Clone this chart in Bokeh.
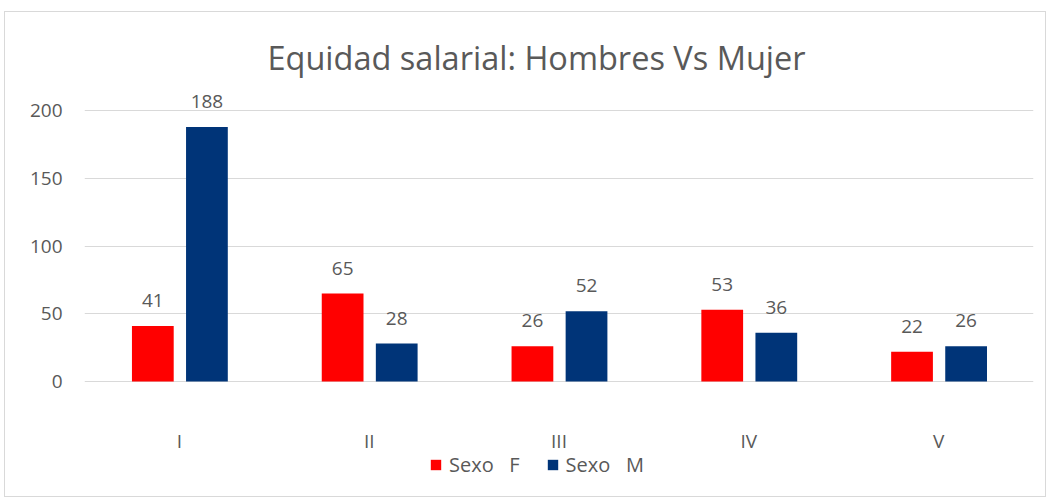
from bokeh.plotting import figure
from bokeh.models import FactorRange, Range1d, ColumnDataSource, Legend, LegendItem
from bokeh.transform import dodge
from bokeh.embed import file_html
from bokeh.resources import INLINE
from bokeh.core.properties import value

categories = ["I", "II", "III", "IV", "V"]
sexo_f = [41, 65, 26, 53, 22]
sexo_m = [188, 28, 52, 36, 26]
series_names = ["Sexo   F", "Sexo   M"]
title_text = "Equidad salarial: Hombres Vs Mujer"
y_ticks = [0, 50, 100, 150, 200]

FONT = "Open Sans"
TXT = "#595959"
GRID = "#d9d9d9"
RED = "#FF0000"
NAVY = "#003478"

src = ColumnDataSource(dict(cat=categories, f=sexo_f, m=sexo_m,
                            fl=[str(v) for v in sexo_f], ml=[str(v) for v in sexo_m],
                            zero=[0] * len(categories)))

p = figure(x_range=FactorRange(*categories), y_range=Range1d(-82, 215),
           width=1042, height=486, output_backend="svg", toolbar_location=None,
           min_border_left=79, min_border_right=14, min_border_top=78, min_border_bottom=6,
           border_fill_color="white")
p.styles = {"border": "1px solid #d9d9d9", "margin-left": "4px", "margin-top": "11px"}
p.outline_line_color = None

p.title.text = title_text
p.title.text_font = FONT
p.title.text_font_size = "32.5px"
p.title.text_font_style = "normal"
p.title.text_color = TXT
p.title.align = "left"
p.title.offset = 183
p.title.standoff = 21

rf = p.vbar(x=dodge("cat", -0.14, range=p.x_range), top="f", width=0.22, source=src,
            fill_color=RED, line_color=None)
rm = p.vbar(x=dodge("cat", 0.145, range=p.x_range), top="m", width=0.22, source=src,
            fill_color=NAVY, line_color=None)

for col, lab, off in (("f", "fl", -0.14), ("m", "ml", 0.145)):
    p.text(x=dodge("cat", off, range=p.x_range), y=col, text=lab, source=src,
           text_align="center", text_baseline="bottom", y_offset=-19,
           text_font=value(FONT), text_font_size="19px", text_color=TXT)

# category labels below the zero line
p.text(x="cat", y="zero", text="cat", source=src, text_align="center",
       text_baseline="middle", y_offset=59,
       text_font=value(FONT), text_font_size="19px", text_color=TXT)

p.xaxis.visible = False

p.yaxis.ticker = y_ticks
p.yaxis.axis_line_color = None
p.yaxis.major_tick_line_color = None
p.yaxis.minor_tick_line_color = None
p.yaxis.major_label_standoff = 16
p.yaxis.major_label_text_font = FONT
p.yaxis.major_label_text_font_size = "19px"
p.yaxis.major_label_text_color = TXT

p.xgrid.grid_line_color = None
p.ygrid.grid_line_color = GRID
p.ygrid.ticker = y_ticks

legend = Legend(items=[LegendItem(label=series_names[0], renderers=[rf]),
                       LegendItem(label=series_names[1], renderers=[rm])],
                orientation="horizontal", location=(345, 14),
                label_text_font=FONT, label_text_font_size="20px", label_text_color=TXT,
                glyph_width=13, glyph_height=13, spacing=26, label_standoff=7,
                border_line_color=None, background_fill_alpha=0, padding=2, margin=0)
p.add_layout(legend, "center")

open("out.html", "w").write(file_html(p, INLINE))
